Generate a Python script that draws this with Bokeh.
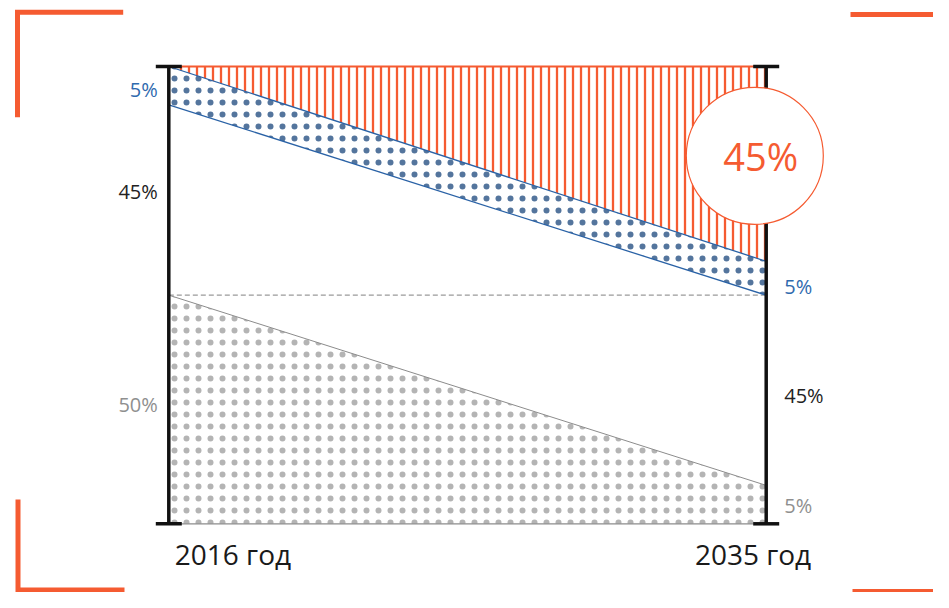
import numpy as np
from bokeh.plotting import figure
from bokeh.models import Range1d
from bokeh.embed import file_html
from bokeh.resources import INLINE
from bokeh.core.properties import value

# ---------------- data ----------------
years = [2016, 2035]
gray_share = [50.0, 8.4]      # bottom dotted grey layer
white_share = [41.6, 41.6]    # white layer
blue_share = [8.4, 7.4]       # blue dotted band
orange_share = [0.0, 42.6]    # orange hatched layer

left_labels = ["5%", "45%", "50%"]
right_labels = ["5%", "45%", "5%"]
year_labels = ["2016 год", "2035 год"]
callout_label = "45%"

# ---------------- styles / layout ----------------
ORANGE = "#F55B31"
BLUE_LINE = "#2A62A6"
BLUE_TEXT = "#2F6AAE"
BLUE_DOT = "#0B3A73"
GRAY_DOT = "#6A6A6A"
GRAY_LINE = "#8C8C8C"
GRAY_TEXT = "#8F8F8F"
DARK = "#222222"
FONT = value("Open Sans")

W, H = 933, 592
OX, OY = 0, 0
AX_L_PX, AX_R_PX = 168.3, 765.7   # x of the two vertical axes
Y0_PX, Y100_PX = 523.3, 66.0      # y of 0 % and 100 %

kx = (AX_R_PX - AX_L_PX) / (years[1] - years[0])
x_start = years[0] - (AX_L_PX - OX) / kx
x_end = x_start + W / kx
ky = (Y0_PX - Y100_PX) / 100.0
y_end = 100 + (Y100_PX - OY) / ky
y_start = y_end - H / ky


def sx(px):
    return x_start + (px - OX) / kx


def sy(py):
    return y_end - (py - OY) / ky


# stacked boundaries
base = np.zeros(len(years))
g_top = base + np.array(gray_share)
w_top = g_top + np.array(white_share)
b_top = w_top + np.array(blue_share)
o_top = b_top + np.array(orange_share)

p = figure(width=W, height=H,
           x_range=Range1d(x_start, x_end), y_range=Range1d(y_start, y_end),
           output_backend="svg", toolbar_location=None,
           x_axis_type=None, y_axis_type=None, min_border=0,
           outline_line_color=None)
p.background_fill_color = "white"
p.border_fill_color = "white"

# areas
p.varea(x=years, y1=base, y2=g_top, fill_alpha=0,
        hatch_pattern="dot", hatch_color=GRAY_DOT, hatch_alpha=0.5,
        hatch_scale=12, hatch_weight=0.3)
p.varea(x=years, y1=w_top, y2=b_top, fill_alpha=0,
        hatch_pattern="dot", hatch_color=BLUE_DOT, hatch_alpha=0.7,
        hatch_scale=12, hatch_weight=0.3)
p.varea(x=years, y1=b_top, y2=o_top, fill_alpha=0,
        hatch_pattern="vertical_line", hatch_color=ORANGE, hatch_scale=8, hatch_weight=2.3)

# boundary lines
p.line(years, base, line_color=GRAY_LINE, line_width=1.2)
p.line(years, [g_top[0]] * 2, line_color="#9A9A9A", line_width=1.2, line_dash="5 3")
p.line(years, g_top, line_color=GRAY_LINE, line_width=1)
p.line(years, w_top, line_color=BLUE_LINE, line_width=1.3)
p.line(years, b_top, line_color=BLUE_LINE, line_width=1.3)
p.line(years, o_top, line_color=ORANGE, line_width=2)

# vertical axes with caps
p.segment(x0=years, y0=base, x1=years, y1=o_top, line_color="#111111", line_width=3.5)
p.scatter(x=[years[0], years[0], years[1], years[1]],
          y=[base[0], o_top[0], base[1], o_top[1]],
          marker="dash", size=26, line_color="#111111", line_width=3.5)

# callout circle
cx, cy = sx(754.3), sy(155.3)
p.scatter(x=[cx], y=[cy], marker="circle", size=137,
          fill_color="white", line_color=ORANGE, line_width=1.2)
p.text(x=[cx], y=[cy], text=[callout_label], text_align="center",
       text_baseline="middle", x_offset=6, text_color=ORANGE,
       text_font=FONT, text_font_size="38px")

# side labels
p.text(x=[years[0]] * 3, y=[sy(89), sy(191), sy(404)], text=left_labels,
       text_align="right", text_baseline="middle", x_offset=-11,
       text_color=[BLUE_TEXT, DARK, GRAY_TEXT], text_font=FONT, text_font_size="20px")
p.text(x=[years[1]] * 3, y=[sy(286), sy(395), sy(505)], text=right_labels,
       text_align="left", text_baseline="middle", x_offset=18,
       text_color=[BLUE_TEXT, DARK, GRAY_TEXT], text_font=FONT, text_font_size="20px")

# year labels
p.text(x=[years[0]], y=[sy(553)], text=[year_labels[0]], text_align="left",
       text_baseline="middle", x_offset=6, text_color="#1A1A1A",
       text_font=FONT, text_font_size="28px")
p.text(x=[years[1]], y=[sy(553)], text=[year_labels[1]], text_align="right",
       text_baseline="middle", x_offset=45, text_color="#1A1A1A",
       text_font=FONT, text_font_size="28px")

# decorative corner brackets
br = dict(line_color=ORANGE, line_width=5, line_join="miter", line_cap="butt")
p.line([sx(122.7), sx(17), sx(17)], [sy(11.8), sy(11.8), sy(116.7)], **br)
p.line([sx(850), sx(933)], [sy(14), sy(14)], **br)
p.line([sx(17.5), sx(17.5), sx(124)], [sy(499), sy(589.5), sy(589.5)], **br)
p.line([sx(852), sx(933)], [sy(591), sy(591)], **br)

open("out.html", "w").write(file_html(p, INLINE))
